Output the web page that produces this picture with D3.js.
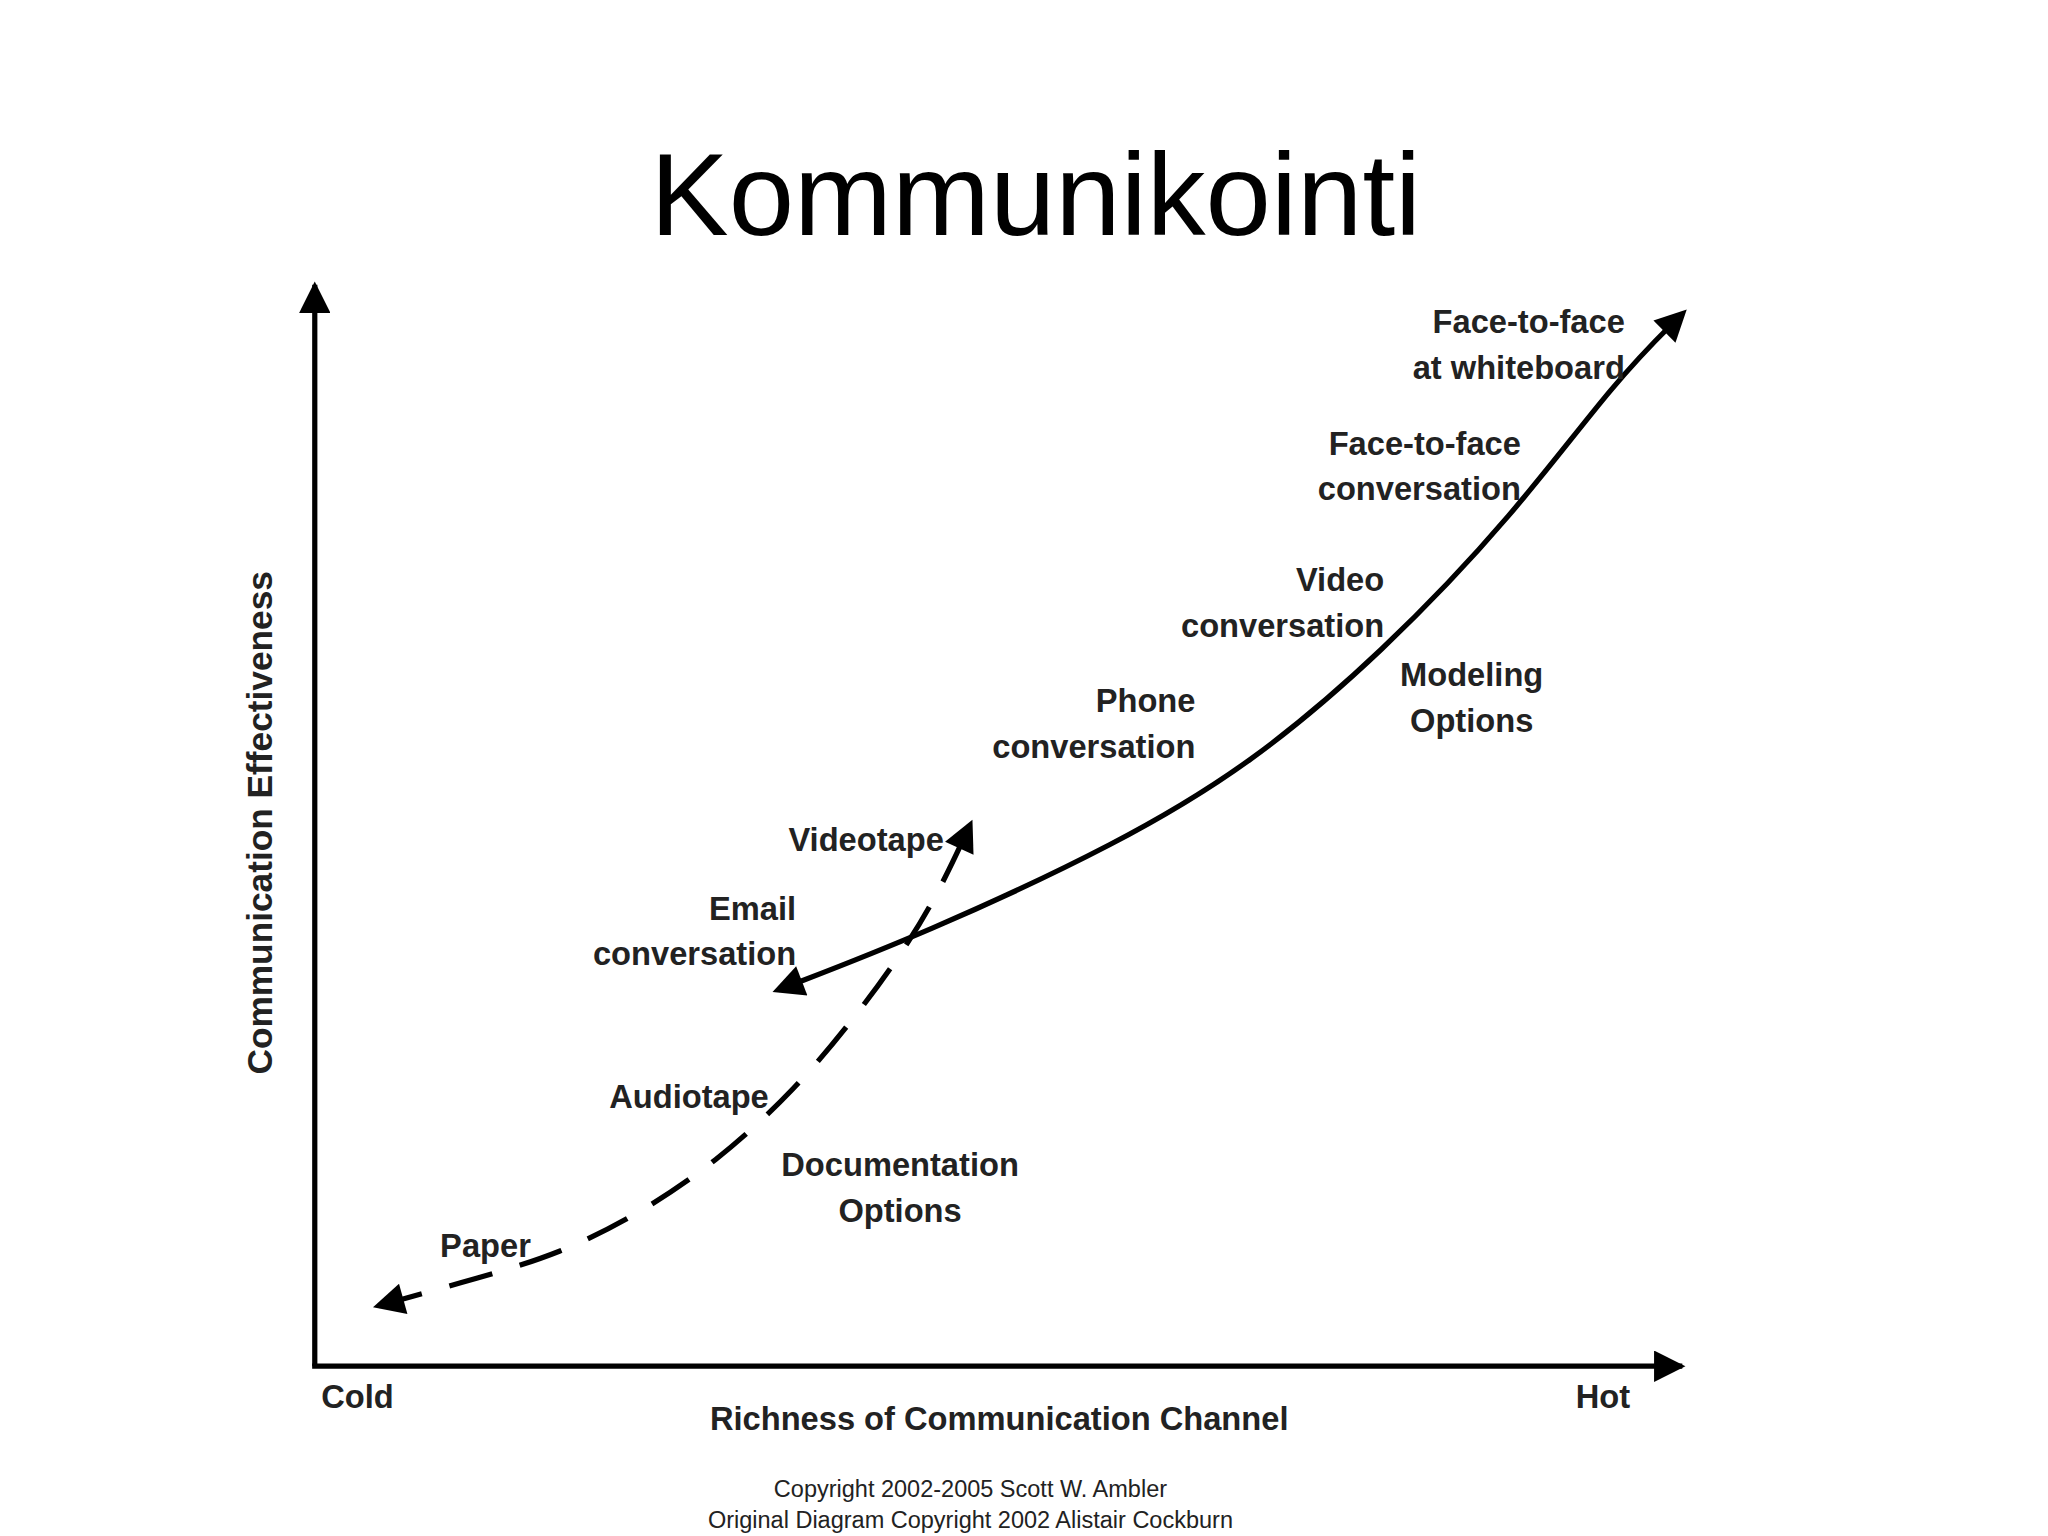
<!DOCTYPE html><html><head><meta charset="utf-8"><script src="https://cdn.jsdelivr.net/npm/d3@7"></script>
<style>body{margin:0;background:#fff}</style></head><body><svg id="c" width="2048" height="1536" viewBox="0 0 1552 1176"></svg>
<script>
const solidCurve=[[33.9,34.8],[44.6,40.0],[58.9,48.4],[68.5,55.7],[78.0,65.9],[87.6,78.6],[95.2,91.3],[100,97.3]];
const dashedCurve=[[4.7,5.6],[12.1,8.2],[17.9,10.4],[23.6,14.0],[29.3,18.8],[35.1,25.5],[39.8,32.7],[43.6,39.4],[46.0,44.8],[47.9,50.0]];
const labels=[
 {t:["Face-to-face","at whiteboard"],x:95.8,y:95.5,a:"end"},
 {t:["Face-to-face","conversation"],x:88.2,y:84.3,a:"end"},
 {t:["Video","conversation"],x:78.2,y:71.7,a:"end"},
 {t:["Phone","conversation"],x:64.4,y:60.5,a:"end"},
 {t:["Modeling","Options"],x:84.6,y:62.9,a:"middle"},
 {t:["Videotape"],x:46.0,y:47.6,a:"end"},
 {t:["Email","conversation"],x:35.2,y:41.3,a:"end"},
 {t:["Audiotape"],x:33.2,y:23.9,a:"end"},
 {t:["Documentation","Options"],x:42.8,y:17.6,a:"middle"},
 {t:["Paper"],x:15.8,y:10.1,a:"end"}
];
const svg=d3.select("#c");
const x=d3.scaleLinear().domain([0,100]).range([233,1280]);
const y=d3.scaleLinear().domain([0,100]).range([1046,218]);
const defs=svg.append("defs");
defs.append("marker").attr("id","ah").attr("viewBox","0 0 10 10").attr("refX",8).attr("refY",5)
 .attr("markerWidth",7).attr("markerHeight",6).attr("orient","auto-start-reverse").attr("markerUnits","strokeWidth")
 .append("path").attr("d","M0,0L10,5L0,10Z").attr("fill","#000");
defs.append("marker").attr("id","axh").attr("viewBox","0 0 10 10").attr("refX",9).attr("refY",5)
 .attr("markerWidth",8).attr("markerHeight",6).attr("orient","auto").attr("markerUnits","strokeWidth")
 .append("path").attr("d","M0,0L10,5L0,10Z").attr("fill","#000");
svg.append("text").attr("x",785).attr("y",180).attr("text-anchor","middle").attr("font-family","Liberation Sans, Arial").attr("font-size",90).text("Kommunikointi");
svg.append("path").attr("d",`M${x(0)},${y(0)}L${x(0)},${y(100)}`).attr("stroke","#000").attr("stroke-width",4).attr("marker-end","url(#axh)");
svg.append("path").attr("d",`M${x(0)-2},${y(0)}L${x(100)},${y(0)}`).attr("stroke","#000").attr("stroke-width",4).attr("marker-end","url(#axh)");
const line=d3.line().x(d=>x(d[0])).y(d=>y(d[1])).curve(d3.curveBasis);
svg.append("path").attr("d",line(solidCurve)).attr("fill","none").attr("stroke","#000").attr("stroke-width",4)
 .attr("marker-start","url(#ah)").attr("marker-end","url(#ah)");
svg.append("path").attr("d",line(dashedCurve)).attr("fill","none").attr("stroke","#000").attr("stroke-width",4)
 .attr("stroke-dasharray","34,22").attr("marker-start","url(#ah)").attr("marker-end","url(#ah)");
const F="Liberation Sans, Arial";
labels.forEach(l=>{const t=svg.append("text").attr("x",x(l.x)).attr("y",y(l.y)).attr("text-anchor",l.a)
 .attr("font-family",F).attr("font-weight","bold").attr("font-size",25).attr("fill","#222");
 l.t.forEach((s,i)=>t.append("tspan").attr("x",x(l.x)).attr("dy",i?35:0).text(s));});
const txt=(s,px,py,a,sz,w)=>svg.append("text").attr("x",px).attr("y",py).attr("text-anchor",a).attr("font-family",F).attr("font-weight",w||"bold").attr("font-size",sz).attr("fill","#222").text(s);
txt("Cold",238,1078,"start",25);
txt("Hot",1240,1078,"end",25);
txt("Richness of Communication Channel",757,1095,"middle",25);
svg.append("text").attr("transform","translate(200,630) rotate(-90)").attr("text-anchor","middle").attr("font-family",F).attr("font-weight","bold").attr("font-size",27).attr("fill","#222").text("Communication Effectiveness");
txt("Copyright 2002-2005 Scott W. Ambler",735,1146,"middle",18,"normal");
txt("Original Diagram Copyright 2002 Alistair Cockburn",735,1170,"middle",18,"normal");
</script></body></html>
